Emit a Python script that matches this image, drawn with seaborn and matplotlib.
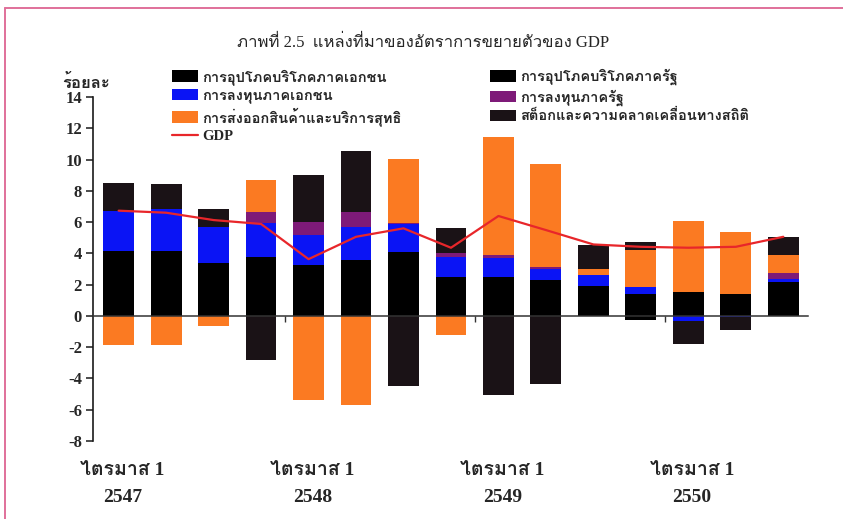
import numpy as np
import pandas as pd
import matplotlib
matplotlib.use("Agg")
import matplotlib.pyplot as plt
import matplotlib.patheffects as pe
from matplotlib import font_manager
from matplotlib.ft2font import FT2Font
from matplotlib.patches import Patch
from matplotlib.lines import Line2D
import seaborn as sns

# ---- data: contributions to GDP growth (percentage points), 2547Q1 - 2550Q3 ----
quarters = ["2547Q1", "2547Q2", "2547Q3", "2547Q4",
            "2548Q1", "2548Q2", "2548Q3", "2548Q4",
            "2549Q1", "2549Q2", "2549Q3", "2549Q4",
            "2550Q1", "2550Q2", "2550Q3"]
priv_cons = [3.60, 3.60, 2.90, 3.10, 2.70, 2.90, 3.30, 2.10, 2.00, 1.90, 1.60, 1.43, 0.90, 0.80, 1.40]
gov_cons = [0.55, 0.55, 0.50, 0.64, 0.55, 0.67, 0.80, 0.40, 0.50, 0.39, 0.32, -0.28, 0.60, 0.60, 0.74]
priv_inv = [2.58, 2.67, 2.27, 2.22, 1.92, 2.14, 1.78, 1.28, 1.18, 0.68, 0.69, 0.43, -0.30, -0.05, 0.19]
gov_inv = [0.00, 0.00, 0.00, 0.71, 0.86, 0.96, 0.05, 0.22, 0.21, 0.15, 0.00, 0.00, 0.00, 0.00, 0.39]
net_exp = [-1.88, -1.88, -0.66, 2.03, -5.36, -5.72, 4.11, -1.24, 7.58, 6.58, 0.36, 2.35, 4.60, 3.98, 1.17]
stock = [1.76, 1.60, 1.15, -2.84, 2.99, 3.89, -4.51, 1.64, -5.04, -4.33, 1.55, 0.49, -1.51, -0.87, 1.14]
gdp = [6.73, 6.60, 6.13, 5.88, 3.63, 5.06, 5.60, 4.36, 6.39, 5.49, 4.57, 4.42, 4.36, 4.42, 5.06]

series_names = ["การอุปโภคบริโภคภาคเอกชน", "การอุปโภคบริโภคภาครัฐ",
                "การลงทุนภาคเอกชน", "การลงทุนภาครัฐ",
                "การส่งออกสินค้าและบริการสุทธิ", "สต็อกและความคลาดเคลื่อนทางสถิติ"]
series_colors = ["#000000", "#000000", "#0a14f5", "#7e1a78", "#fb7a22", "#1a1216"]
gdp_color = "#e8262a"
year_labels = ["2547", "2548", "2549", "2550"]
quarter_label = "ไตรมาส 1"
title_text = "ภาพที่ 2.5  แหล่งที่มาของอัตราการขยายตัวของ GDP"
unit_label = "ร้อยละ"


def thai_capable_family():
    """Return an installed family with Thai glyphs, and whether it has a bold face."""
    preferred = ["Noto Serif Thai", "Noto Sans Thai", "Norasi", "Garuda", "Loma",
                 "Tlwg Typo", "DejaVu Sans", "Noto Sans"]
    found = {}
    for f in font_manager.fontManager.ttflist:
        try:
            if 0x0E01 in FT2Font(f.fname).get_charmap():
                w = f.weight if isinstance(f.weight, int) else 400
                found[f.name] = max(found.get(f.name, 0), w)
        except Exception:
            pass
    names = [n for n in preferred if n in found] + [n for n in found if n not in preferred]
    bold = [n for n in names if found[n] >= 600]
    if bold:
        return bold[0], True
    return (names[0] if names else "DejaVu Sans"), False


sns.set_theme(style="white")
thai_font, thai_has_bold = thai_capable_family()
plt.rcParams["font.family"] = ["Liberation Serif", thai_font]
plt.rcParams["font.weight"] = "bold"
# thicken Thai strokes slightly when the family has no bold face
heavy = [] if thai_has_bold else [pe.withStroke(linewidth=0.7, foreground="black")]

W, H = 843, 519
fig = plt.figure(figsize=(W / 100, H / 100), dpi=100)
fig.patch.set_facecolor("white")
ax = fig.add_axes([93 / W, 1 - 441 / H, (808 - 93) / W, (441 - 97) / H])
ax.set_facecolor("white")

# stack positive and negative parts separately, drawn back to front
frame = pd.DataFrame({"q": quarters})
values = [priv_cons, gov_cons, priv_inv, gov_inv, net_exp, stock]
arr = np.array(values)
pos_cum = np.cumsum(np.clip(arr, 0, None), axis=0)
neg_cum = np.cumsum(np.clip(arr, None, 0), axis=0)
for k in range(len(values) - 1, -1, -1):
    for heights in (pos_cum[k], neg_cum[k]):
        sns.barplot(x=frame["q"], y=heights, color=series_colors[k], width=0.65,
                    saturation=1, linewidth=0, errorbar=None, ax=ax)

sns.lineplot(x=np.arange(len(quarters)), y=gdp, color=gdp_color, linewidth=1.6,
             sort=False, ax=ax)

ax.set_ylim(-8, 14)
ax.set_xlim(-0.54, len(quarters) - 0.48)
ax.set_yticks(np.arange(-8, 15, 2))
ax.set_yticklabels([f"{v:d}" for v in range(-8, 15, 2)], fontsize=12, fontweight="bold")
ax.set_xticks([])
ax.set_xticks([3.5, 7.5, 11.5], minor=True)
ax.set_xlabel("")
ax.set_ylabel("")
for s in ("top", "right"):
    ax.spines[s].set_visible(False)
ax.spines["bottom"].set_position(("data", 0))
ax.spines["left"].set_color("#1a1a1a")
ax.spines["bottom"].set_color("#333333")
ax.spines["left"].set_linewidth(1.2)
ax.spines["bottom"].set_linewidth(1.1)
ax.tick_params(axis="y", which="major", direction="out", length=5, width=1.1,
               color="#1a1a1a", pad=3, left=True)
ax.tick_params(axis="x", which="minor", direction="out", length=4, width=1.0,
               color="#333333", bottom=True)

# quarter / year labels under the plot
for i, yr in enumerate(year_labels):
    ax.text(i * 4 + 0.08, -0.085, quarter_label, transform=ax.get_xaxis_transform(),
            ha="center", va="center", fontsize=14, fontweight="bold", path_effects=heavy)
    ax.text(i * 4 + 0.08, -0.165, yr, transform=ax.get_xaxis_transform(),
            ha="center", va="center", fontsize=14, fontweight="bold")

fig.text(86 / W, 1 - 84 / H, unit_label, ha="center", va="center",
         fontsize=12, fontweight="bold", path_effects=heavy)
fig.text(423 / W, 1 - 43 / H, title_text, ha="center", va="center",
         fontsize=12, fontweight="normal")

# legend in two blocks
def patch(k):
    return Patch(facecolor=series_colors[k], edgecolor="none")

left_handles = [patch(0), patch(2), patch(4),
                Line2D([0], [0], color=gdp_color, linewidth=1.6)]
left_labels = [series_names[0], series_names[2], series_names[4], "GDP"]
right_handles = [patch(1), patch(3), patch(5)]
right_labels = [series_names[1], series_names[3], series_names[5]]
leg_kw = dict(loc="upper left", frameon=False, borderpad=0, borderaxespad=0,
              handlelength=1.75, handleheight=0.8, handletextpad=0.3, labelspacing=0.26,
              prop={"size": 10.5, "weight": "bold"})
leg1 = fig.legend(left_handles, left_labels, bbox_to_anchor=(172 / W, 1 - 69 / H), **leg_kw)
leg2 = fig.legend(right_handles, right_labels, bbox_to_anchor=(490 / W, 1 - 69 / H), **leg_kw)
for leg in (leg1, leg2):
    for t in leg.get_texts():
        t.set_path_effects(heavy)

# pink page frame
fig.add_artist(Line2D([5 / W, 1], [1 - 8 / H, 1 - 8 / H], transform=fig.transFigure,
                      color="#e0709a", linewidth=1.4))
fig.add_artist(Line2D([5 / W, 5 / W], [0, 1 - 8 / H], transform=fig.transFigure,
                      color="#e0709a", linewidth=1.4))

fig.savefig("out.png", dpi=100, facecolor="white")
